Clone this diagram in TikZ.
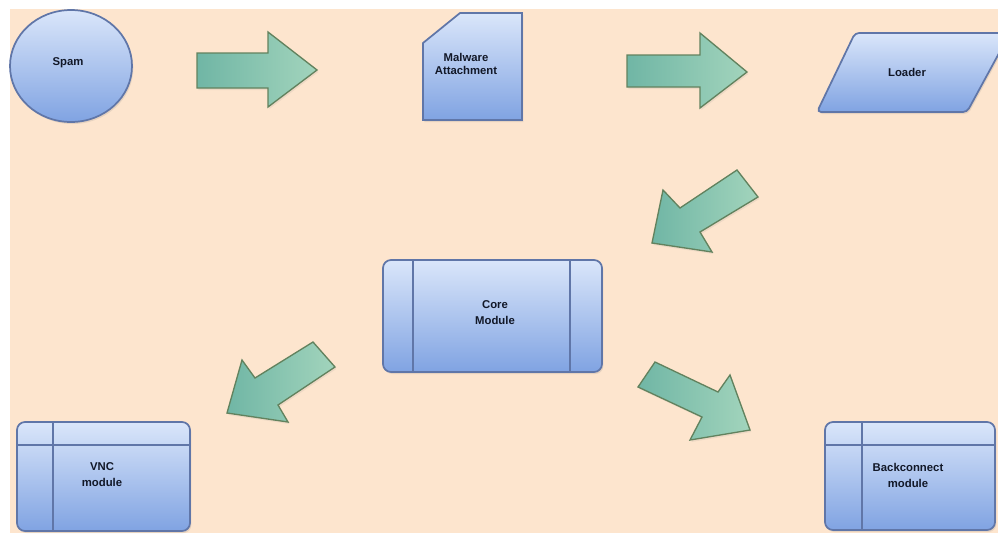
\documentclass[tikz,border=0pt]{standalone}
\usepackage{fontspec}
\setmainfont{Liberation Sans}
\usetikzlibrary{shapes.geometric,shadows}
\definecolor{bg}{RGB}{253,229,206}
\definecolor{ntop}{RGB}{218,230,250}
\definecolor{nbot}{RGB}{128,163,226}
\definecolor{nline}{RGB}{96,118,168}
\definecolor{aleft}{RGB}{112,182,165}
\definecolor{aright}{RGB}{162,212,188}
\definecolor{aline}{RGB}{98,130,94}
\definecolor{txt}{RGB}{18,24,40}
\begin{document}
\begin{tikzpicture}[x=0.75pt,y=-0.75pt,
  lbl/.style={font=\fontsize{8.5}{12}\selectfont\bfseries, text=txt, align=center, inner sep=0},
  shp/.style={draw=nline, line width=1.3pt, top color=ntop, bottom color=nbot,
    drop shadow={opacity=0.18, shadow xshift=1pt, shadow yshift=-1.5pt}},
  divider/.style={draw=nline, line width=1.2pt},
  barr/.style={draw=aline, line width=1pt, left color=aleft, right color=aright, line join=miter,
    drop shadow={opacity=0.12, shadow xshift=1pt, shadow yshift=-1.5pt}}]
\useasboundingbox (0,0) rectangle (998,533);
\fill[white] (0,0) rectangle (998,533);
\fill[bg] (10,9) rectangle (998,533);
\clip (0,0) rectangle (998,533);

% Spam
\node[ellipse, shp, minimum width=91.5pt, minimum height=84pt, inner sep=0] (spam) at (71,66) {};
\node[lbl] (spamt) at (68,63) {Spam};

% Malware attachment
\path[shp] (460,13) -- (522,13) -- (522,120) -- (423,120) -- (423,43) -- cycle;
\node[lbl, font=\fontsize{8.5}{10}\selectfont\bfseries] (mal) at (466,64) {Malware\\Attachment};

% Loader
\path[shp, rounded corners=3pt] (855,33) -- (1010,33) -- (967,112) -- (817,112) -- cycle;
\node[lbl] (loader) at (907,72) {Loader};

% Core module
\path[shp, rounded corners=6pt] (383,260) rectangle (602,372);
\draw[divider] (413,260) -- (413,372);
\draw[divider] (570,260) -- (570,372);
\node[lbl] (core) at (495,313) {Core\\Module};

% VNC module
\path[shp, rounded corners=6pt] (17,422) rectangle (190,531);
\draw[divider] (53,422) -- (53,531);
\draw[divider] (17,445) -- (190,445);
\node[lbl] (vnc) at (102,475) {VNC\\module};

% Backconnect module
\path[shp, rounded corners=6pt] (825,422) rectangle (995,530);
\draw[divider] (862,422) -- (862,530);
\draw[divider] (825,445) -- (995,445);
\node[lbl] (bc) at (908,475) {Backconnect\\module};

% block arrows
\path[barr] (197,53) -- (268,53) -- (268,32) -- (317,70) -- (268,107) -- (268,88) -- (197,88) -- cycle;
\path[barr] (627,55) -- (700,55) -- (700,33) -- (747,72) -- (700,108) -- (700,87) -- (627,87) -- cycle;
\path[barr] (737,170) -- (758,197) -- (700,232) -- (712,252) -- (652,243) -- (663,190) -- (680,208) -- cycle;
\path[barr] (313,342) -- (335,367) -- (278,405) -- (288,422) -- (227,413) -- (242,360) -- (255,378) -- cycle;
\path[barr] (655,362) -- (718,392) -- (730,375) -- (750,430) -- (690,440) -- (702,417) -- (638,387) -- cycle;
\end{tikzpicture}
\end{document}
